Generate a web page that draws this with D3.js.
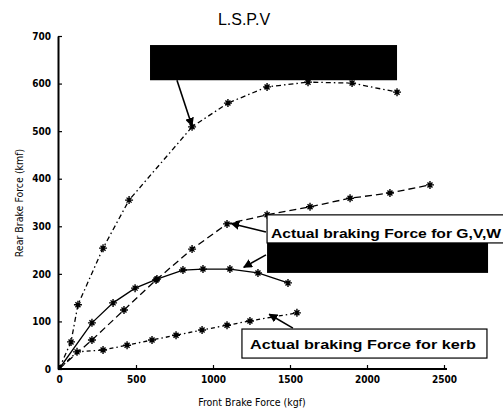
<!DOCTYPE html>
<html>
<head>
<meta charset="utf-8">
<title>L.S.P.V</title>
<script src="https://cdn.jsdelivr.net/npm/d3@7"></script>
<style>
  body { margin: 0; background: #fff; }
  svg { display: block; }
</style>
</head>
<body>
<svg width="503" height="409"></svg>
<script>
// values (front force kgf, rear force kgf)
var idealGvwX = [0, 78, 123, 286, 455, 864, 1097, 1351, 1617, 1903, 2195];
var idealGvwY = [0, 57, 135, 254, 355, 509, 559, 593, 603, 601, 582];

var actualGvwX = [0, 214, 422, 630, 864, 1091, 1351, 1630, 1890, 2149, 2409];
var actualGvwY = [0, 61, 124, 187, 252, 305, 324, 341, 359, 370, 387];

var idealKerbX = [0, 214, 351, 494, 636, 805, 935, 1110, 1292, 1487];
var idealKerbY = [0, 97, 139, 170, 189, 208, 210, 210, 202, 181];

var actualKerbX = [0, 117, 286, 442, 604, 760, 929, 1091, 1240, 1545];
var actualKerbY = [0, 36, 40, 50, 61, 71, 82, 92, 101, 118];

var xTicks = [0, 500, 1000, 1500, 2000, 2500];
var yTicks = [0, 100, 200, 300, 400, 500, 600, 700];

var svg = d3.select("svg");

var x = d3.scaleLinear().domain([0, 2500]).range([59, 444]);
var y = d3.scaleLinear().domain([0, 700]).range([369, 36]);

function zip(xs, ys) {
  return xs.map(function(v, i) { return [v, ys[i]]; });
}

var series = [
  { pts: zip(idealGvwX, idealGvwY), dash: "5,3,1.5,3" },
  { pts: zip(actualGvwX, actualGvwY), dash: "7,4" },
  { pts: zip(idealKerbX, idealKerbY), dash: null },
  { pts: zip(actualKerbX, actualKerbY), dash: "4,3,1.5,3" }
];

// axes (ticks point inward, no box)
var yAxis = d3.axisLeft(y).tickValues(yTicks).tickFormat(d3.format("d"))
  .tickSizeInner(-4).tickSizeOuter(0).tickPadding(7);
var xAxis = d3.axisBottom(x).tickValues(xTicks).tickFormat(d3.format("d"))
  .tickSizeInner(-4).tickSizeOuter(0).tickPadding(7);

var gy = svg.append("g").attr("transform", "translate(" + (x(0) - 1) + ",0)").call(yAxis);
var gx = svg.append("g").attr("transform", "translate(0," + y(0) + ")").call(xAxis);

[gx, gy].forEach(function(g) {
  g.select(".domain").attr("stroke", "#000").attr("stroke-width", 2);
  g.selectAll(".tick line").attr("stroke", "#000").attr("stroke-width", 1.2);
  g.selectAll(".tick text")
    .attr("fill", "#000")
    .style("font-family", "'DejaVu Sans Condensed', 'Liberation Sans Narrow', sans-serif")
    .style("font-weight", "bold")
    .style("font-size", "10px");
});
gx.select(".domain").attr("d", "M" + x(0) + ",0H" + (x(2500) + 3));

// lines
var line = d3.line().x(function(d) { return x(d[0]); }).y(function(d) { return y(d[1]); });

svg.append("g").selectAll("path")
  .data(series)
  .enter()
  .append("path")
  .attr("d", function(d) { return line(d.pts); })
  .attr("fill", "none")
  .attr("stroke", "#000")
  .attr("stroke-width", 1.3)
  .attr("stroke-dasharray", function(d) { return d.dash; });

// star markers
var star = "M-4,0H4M0,-4V4M-2.5,-2.5L2.5,2.5M-2.5,2.5L2.5,-2.5";
series.forEach(function(s) {
  svg.append("g").selectAll("path")
    .data(s.pts.slice(1))
    .enter()
    .append("path")
    .attr("d", star)
    .attr("transform", function(d) { return "translate(" + x(d[0]) + "," + y(d[1]) + ")"; })
    .attr("stroke", "#000")
    .attr("stroke-width", 1.4);
});

// annotations (in data units)
var blackBoxes = [
  { x0: 591, x1: 2195, y0: 681, y1: 607 },
  { x0: 1351, x1: 2786, y0: 265, y1: 202 }
];
var labelBoxes = [
  { x0: 1351, x1: 2900, y0: 324, y1: 265, tx: 1377, ty: 276, text: "Actual braking Force for G,V,W", w: 230 },
  { x0: 1188, x1: 2779, y0: 84, y1: 23, tx: 1240, ty: 42, text: "Actual braking Force for kerb", w: 226 }
];
var arrows = [
  { from: [766, 607], to: [864, 511] },
  { from: [1344, 288], to: [1118, 306] },
  { from: [1344, 240], to: [1200, 214] },
  { from: [1519, 86], to: [1365, 115] }
];

svg.append("defs").append("marker")
  .attr("id", "head")
  .attr("viewBox", "0 0 10 10")
  .attr("refX", 9).attr("refY", 5)
  .attr("markerWidth", 9).attr("markerHeight", 9)
  .attr("markerUnits", "userSpaceOnUse")
  .attr("orient", "auto")
  .append("path").attr("d", "M0,0L10,5L0,10Z").attr("fill", "#000");

svg.append("g").selectAll("line")
  .data(arrows)
  .enter()
  .append("line")
  .attr("x1", function(d) { return x(d.from[0]); })
  .attr("y1", function(d) { return y(d.from[1]); })
  .attr("x2", function(d) { return x(d.to[0]); })
  .attr("y2", function(d) { return y(d.to[1]); })
  .attr("stroke", "#000")
  .attr("stroke-width", 1.6)
  .attr("marker-end", "url(#head)");

var lb = svg.append("g").selectAll("g")
  .data(labelBoxes)
  .enter()
  .append("g");
lb.append("rect")
  .attr("x", function(d) { return x(d.x0); })
  .attr("y", function(d) { return y(d.y0); })
  .attr("width", function(d) { return x(d.x1) - x(d.x0); })
  .attr("height", function(d) { return y(d.y1) - y(d.y0); })
  .attr("fill", "#fff")
  .attr("stroke", "#000")
  .attr("stroke-width", 1.2);
lb.append("text")
  .attr("x", function(d) { return x(d.tx); })
  .attr("y", function(d) { return y(d.ty); })
  .attr("textLength", function(d) { return d.w; })
  .attr("lengthAdjust", "spacingAndGlyphs")
  .style("font-family", "'Liberation Sans', Arial, sans-serif")
  .style("font-weight", "bold")
  .style("font-size", "13.5px")
  .text(function(d) { return d.text; });

svg.append("g").selectAll("rect")
  .data(blackBoxes)
  .enter()
  .append("rect")
  .attr("x", function(d) { return x(d.x0); })
  .attr("y", function(d) { return y(d.y0); })
  .attr("width", function(d) { return x(d.x1) - x(d.x0); })
  .attr("height", function(d) { return y(d.y1) - y(d.y0); })
  .attr("fill", "#000");

// titles
svg.append("text")
  .attr("x", 244).attr("y", 25)
  .attr("text-anchor", "middle")
  .style("font-family", "'Liberation Sans', Arial, sans-serif")
  .style("font-size", "16px")
  .text("L.S.P.V");

svg.append("text")
  .attr("x", 252).attr("y", 406)
  .attr("text-anchor", "middle")
  .style("font-family", "'DejaVu Sans Condensed', sans-serif")
  .style("font-size", "10.5px")
  .text("Front Brake Force (kgf)");

svg.append("text")
  .attr("transform", "translate(23,203) rotate(-90)")
  .attr("text-anchor", "middle")
  .style("font-family", "'DejaVu Sans Condensed', sans-serif")
  .style("font-size", "10.5px")
  .text("Rear Brake Force (kmf)");
</script>
</body>
</html>
